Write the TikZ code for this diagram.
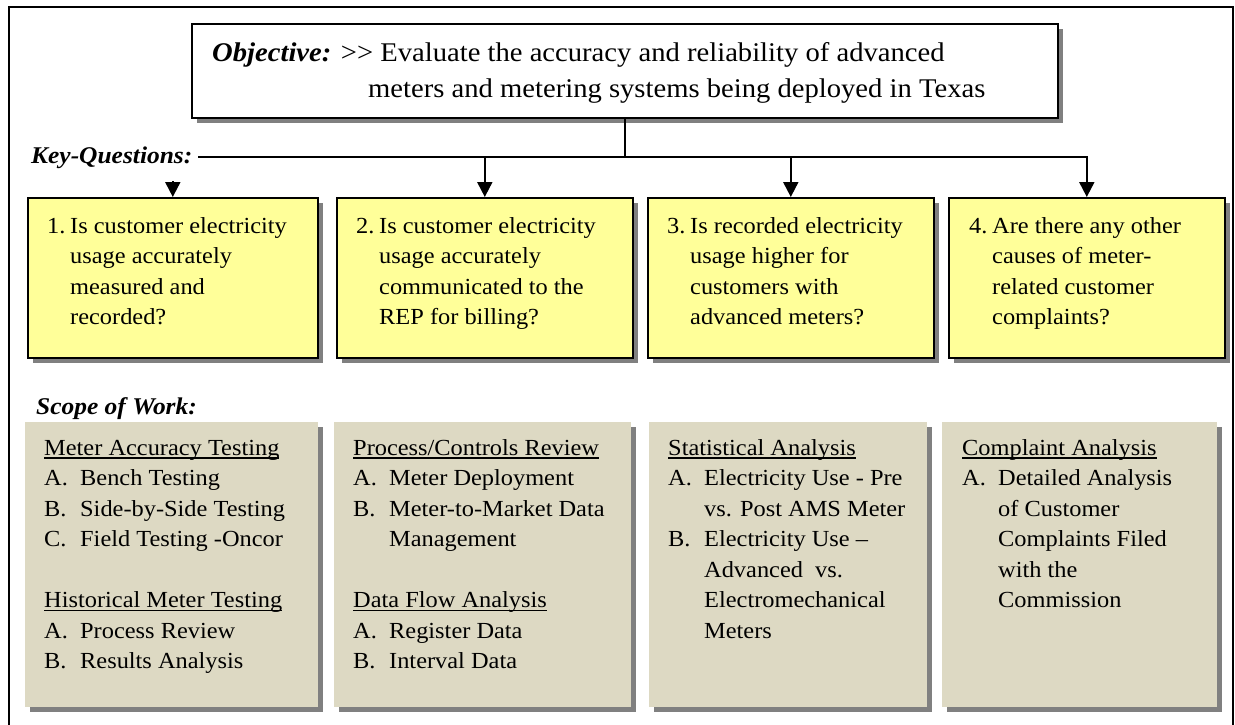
\documentclass[tikz,border=0pt]{standalone}
\usepackage{fontspec}
\setmainfont{Liberation Serif}[FakeStretch=1.06]
\usetikzlibrary{arrows.meta,shadows}
\definecolor{qyellow}{HTML}{FFFF99}
\definecolor{sgray}{HTML}{DDD9C3}
\definecolor{shgray}{HTML}{808080}
\newcommand\myul[1]{\setbox0\hbox{#1}\rlap{\rule[-3.5pt]{\wd0}{1.3pt}}\box0}
\newcommand\itm[1]{\makebox[36pt][l]{#1}}
\newcommand\ind{\hspace*{36pt}}
\newcommand\qn[1]{\makebox[23pt][l]{#1}}
\newcommand\qi{\hspace*{23pt}}
\tikzset{
  shadowed/.style={general shadow={fill=shgray, shadow xshift=5pt, shadow yshift=-5pt}},
  objbox/.style={draw, line width=1.6pt, fill=white, shadowed, anchor=north west, inner sep=0pt},
  qbox/.style={draw, line width=1.6pt, fill=qyellow, shadowed, anchor=north west, inner sep=0pt},
  sbox/.style={fill=sgray, shadowed, anchor=north west, inner sep=0pt},
  body/.style={anchor=base west, inner sep=0pt, font=\fontsize{23}{30.5}\selectfont},
  objtext/.style={anchor=base west, inner sep=0pt, font=\fontsize{27}{35}\selectfont},
  lbl/.style={anchor=base west, inner sep=0pt, font=\fontsize{24}{30}\selectfont\bfseries\itshape},
  conn/.style={line width=2pt},
  arr/.style={line width=2pt, -{Triangle[length=15pt,width=15pt]}},
}
\begin{document}
\begin{tikzpicture}[x=1pt,y=-1pt]
\useasboundingbox (0,0) rectangle (1235,725);
\fill[white] (0,0) rectangle (1235,725);
\draw[line width=1.5pt] (9,7) rectangle (1233,760);

% objective
\node[objbox, minimum width=866pt, minimum height=94pt] (obj) at (191,23) {};
\node[objtext] (objl1) at (212,62) {{\bfseries\itshape Objective:} \mbox{>}\mbox{>} Evaluate the accuracy and reliability of advanced};
\node[objtext] (objl2) at (368,97) {meters and metering systems being deployed in Texas};

% key questions
\node[lbl] (keyq) at (31,163) {Key-Questions:};

\node[qbox, minimum width=290pt, minimum height=160pt] (q1) at (27,197) {};
\node[qbox, minimum width=296pt, minimum height=160pt] (q2) at (336,197) {};
\node[qbox, minimum width=286pt, minimum height=160pt] (q3) at (647,197) {};
\node[qbox, minimum width=276pt, minimum height=160pt] (q4) at (948,197) {};

\node[body] (t1) at (47,233) {\begin{tabular}[t]{@{}l@{}}\qn{1.}Is customer electricity\\ \qi usage accurately\\ \qi measured and\\ \qi recorded?\end{tabular}};
\node[body] (t2) at (356,233) {\begin{tabular}[t]{@{}l@{}}\qn{2.}Is customer electricity\\ \qi usage accurately\\ \qi communicated to the\\ \qi REP for billing?\end{tabular}};
\node[body] (t3) at (667,233) {\begin{tabular}[t]{@{}l@{}}\qn{3.}Is recorded electricity\\ \qi usage higher for\\ \qi customers with\\ \qi advanced meters?\end{tabular}};
\node[body] (t4) at (969,233) {\begin{tabular}[t]{@{}l@{}}\qn{4.}Are there any other\\ \qi causes of meter-\\ \qi related customer\\ \qi complaints?\end{tabular}};

% connectors
\coordinate (hl0) at (198,157);
\coordinate (a1) at (q1.north |- 0,181);
\draw[conn] (obj.south) -- (obj.south |- hl0);
\draw[arr] (hl0) -| (q4.north);
\draw[arr] (q2.north |- hl0) -- (q2.north);
\draw[arr] (q3.north |- hl0) -- (q3.north);
\draw[arr] (a1) -- (q1.north);

% scope of work
\node[lbl] (scope) at (36,414) {Scope of Work:};

\node[sbox, minimum width=293pt, minimum height=285pt] (s1) at (25,422) {};
\node[sbox, minimum width=297pt, minimum height=285pt] (s2) at (334,422) {};
\node[sbox, minimum width=278pt, minimum height=285pt] (s3) at (649,422) {};
\node[sbox, minimum width=275pt, minimum height=285pt] (s4) at (942,422) {};

\node[body] (u1) at (44,455) {\begin{tabular}[t]{@{}l@{}}\myul{Meter Accuracy Testing}\\ \itm{A.}Bench Testing\\ \itm{B.}Side-by-Side Testing\\ \itm{C.}Field Testing -Oncor\\ \mbox{}\\ \myul{Historical Meter Testing}\\ \itm{A.}Process Review\\ \itm{B.}Results Analysis\end{tabular}};
\node[body] (u2) at (353,455) {\begin{tabular}[t]{@{}l@{}}\myul{Process/Controls Review}\\ \itm{A.}Meter Deployment\\ \itm{B.}Meter-to-Market Data\\ \ind Management\\ \mbox{}\\ \myul{Data Flow Analysis}\\ \itm{A.}Register Data\\ \itm{B.}Interval Data\end{tabular}};
\node[body] (u3) at (668,455) {\begin{tabular}[t]{@{}l@{}}\myul{Statistical Analysis}\\ \itm{A.}Electricity Use - Pre\\ \ind vs. Post AMS Meter\\ \itm{B.}Electricity Use --\\ \ind Advanced\ \ vs.\\ \ind Electromechanical\\ \ind Meters\end{tabular}};
\node[body] (u4) at (962,455) {\begin{tabular}[t]{@{}l@{}}\myul{Complaint Analysis}\\ \itm{A.}Detailed Analysis\\ \ind of Customer\\ \ind Complaints Filed\\ \ind with the\\ \ind Commission\end{tabular}};
\end{tikzpicture}
\end{document}
